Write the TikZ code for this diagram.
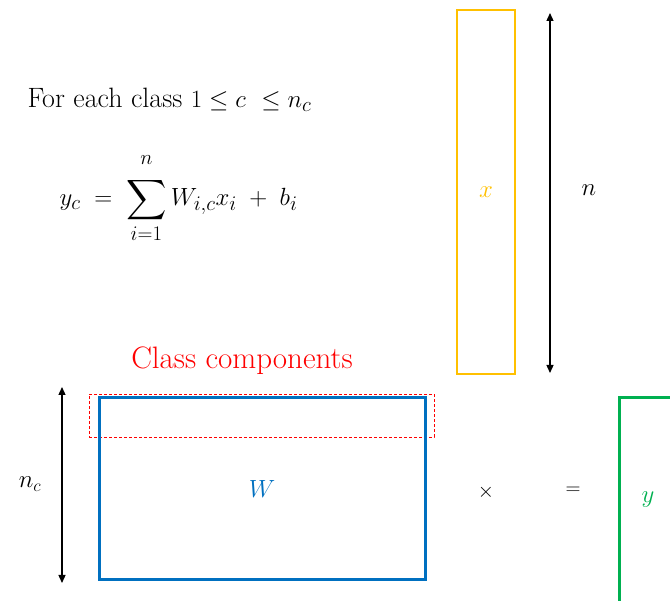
\documentclass[tikz,border=0pt]{standalone}
\usepackage{amsmath}
\usepackage{amssymb}
\usepackage{xcolor}
\usepackage{tikz}
\usetikzlibrary{arrows.meta, positioning}

\definecolor{xorange}{HTML}{FFC000}
\definecolor{wblue}{HTML}{0070C0}
\definecolor{ygreen}{HTML}{00B050}
\definecolor{compred}{HTML}{FF0000}

\tikzset{
  dimarrow/.style={{Triangle[length=8pt,width=7pt]}-{Triangle[length=8pt,width=7pt]}, line width=1.3pt},
  bigtext/.style={font=\fontsize{23}{27}\selectfont},
  box/.style={draw, inner sep=0pt}
}

\begin{document}
\begin{tikzpicture}[x=1pt, y=-1pt]
  \useasboundingbox (0,0) rectangle (670,601);
  \clip (0,0) rectangle (670,601);

  % formula
  \node[font=\fontsize{28}{32}\selectfont, anchor=west] (rule) at (24,100) {For each class $1 \leq c\ \leq n_c$};
  \node[font=\fontsize{28}{32}\selectfont, anchor=west] (sumeq) at (56,198)
    {$y_c \;=\; \displaystyle\sum_{\rule{0pt}{14pt}i=1}^{n\rule[-10pt]{0pt}{0pt}} W_{i,c}x_i \;+\; b_i$};

  % input vector
  \node[box, draw=xorange, line width=2.5pt, minimum width=58pt, minimum height=364pt,
        bigtext, text=xorange] (xvec) at (486,192) {$x$};
  \coordinate (ntop) at (550,13);
  \coordinate (nbot) at (550,373);
  \draw[dimarrow] (ntop) -- (nbot);
  \node[bigtext] (nlab) at (589,190) {$n$};

  % weight matrix
  \node[text=compred, font=\fontsize{31}{35}\selectfont] (comp) at (242,361) {Class components};
  \node[box, draw=compred, dashed, dash pattern=on 3pt off 2pt, line width=0.8pt,
        minimum width=345pt, minimum height=43pt] (row) at (261.5,415.5) {};
  \node[box, draw=wblue, line width=3pt, minimum width=326pt, minimum height=182pt,
        bigtext, text=wblue] (wmat) at (262,489) {$W$};
  \coordinate (nctop) at (62,387);
  \coordinate (ncbot) at (62,583);
  \draw[dimarrow] (nctop) -- (ncbot);
  \node[bigtext] (nclab) at (30,484) {$n_c$};

  % operators and output
  \node[font=\fontsize{20}{24}\selectfont] (times) at (486,492) {$\times$};
  \node[font=\fontsize{20}{24}\selectfont] (equals) at (573,491) {$=$};
  \draw[ygreen, line width=3pt] (619,398) rectangle (700,640);
  \node[bigtext, text=ygreen] (yvec) at (648,500) {$y$};
\end{tikzpicture}
\end{document}
